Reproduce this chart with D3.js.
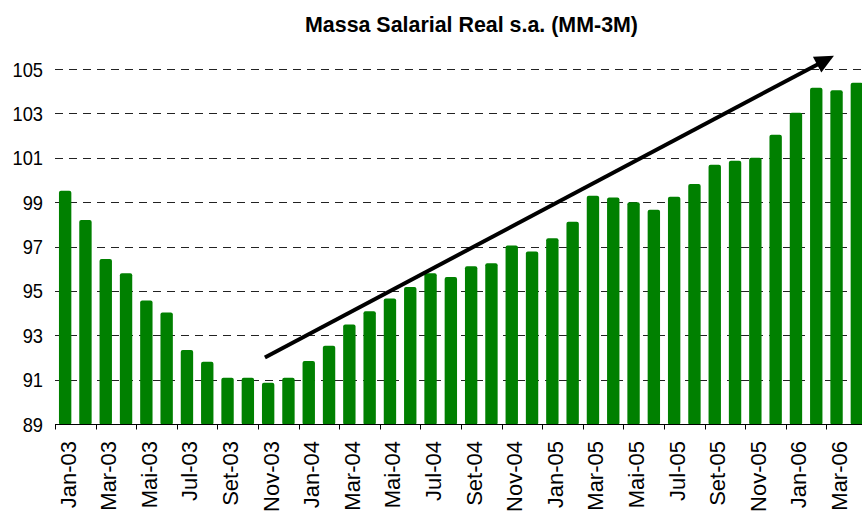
<!DOCTYPE html>
<html>
<head>
<meta charset="utf-8">
<script src="https://cdn.jsdelivr.net/npm/d3@7"></script>
<style>
  body { margin: 0; background: #fff; }
  svg { display: block; font-family: "Liberation Sans", Arial, sans-serif; }
</style>
</head>
<body>
<svg id="svg" width="862" height="511"></svg>
<script>
/*********************
 * Data
 *********************/
const months = [
  'Jan-03','Fev-03','Mar-03','Abr-03','Mai-03','Jun-03','Jul-03','Ago-03','Set-03','Out-03','Nov-03','Dez-03',
  'Jan-04','Fev-04','Mar-04','Abr-04','Mai-04','Jun-04','Jul-04','Ago-04','Set-04','Out-04','Nov-04','Dez-04',
  'Jan-05','Fev-05','Mar-05','Abr-05','Mai-05','Jun-05','Jul-05','Ago-05','Set-05','Out-05','Nov-05','Dez-05',
  'Jan-06','Fev-06','Mar-06','Abr-06'
];
const values = [
  99.51, 98.19, 96.44, 95.80, 94.57, 94.02, 92.33, 91.81, 91.09, 91.09, 90.86, 91.09,
  91.84, 92.53, 93.49, 94.08, 94.66, 95.17, 95.79, 95.62, 96.11, 96.24, 97.04, 96.78,
  97.37, 98.12, 99.29, 99.21, 99.00, 98.66, 99.24, 99.82, 100.69, 100.87, 101.00, 102.04,
  103.03, 104.16, 104.04, 104.38
];
const yTicks = [89, 91, 93, 95, 97, 99, 101, 103, 105];
const title = 'Massa Salarial Real s.a. (MM-3M)';
// trend arrow, in (month index, value) units
const arrowFrom = [9.84, 92.0];
const arrowTo = [37.87, 105.6];

/*********************
 * Scales
 *********************/
const svg = d3.select('#svg');
const step = 20.3;
const left = 55;

const x = d3.scaleBand()
  .domain(months)
  .range([left, left + step * months.length])
  .paddingInner(0.39)
  .paddingOuter(0.195);

const y = d3.scaleLinear().domain([89, 105]).range([424, 69]);

// fractional month index -> pixel (centre of band)
const xi = d3.scaleLinear().domain([0, 1]).range([x(months[0]) + x.bandwidth() / 2, x(months[1]) + x.bandwidth() / 2]);

/*********************
 * Grid
 *********************/
svg.append('g')
  .selectAll('line')
  .data(yTicks.filter(t => t > 89))
  .enter()
  .append('line')
  .attr('x1', left)
  .attr('x2', 862)
  .attr('y1', d => Math.round(y(d)) + 0.5)
  .attr('y2', d => Math.round(y(d)) + 0.5)
  .attr('stroke', '#222')
  .attr('stroke-width', 1)
  .attr('stroke-dasharray', '8,6');

svg.append('g')
  .selectAll('text')
  .data(yTicks)
  .enter()
  .append('text')
  .attr('transform', d => `translate(43,${y(d)}) scale(0.87,1)`)
  .attr('text-anchor', 'end')
  .attr('dy', '0.36em')
  .attr('font-size', 21)
  .attr('fill', '#000')
  .text(d => d);

/*********************
 * Bars
 *********************/
svg.append('g')
  .selectAll('rect')
  .data(values)
  .enter()
  .append('rect')
  .attr('x', (d, i) => x(months[i]))
  .attr('y', d => y(d))
  .attr('width', x.bandwidth())
  .attr('height', d => y(89) - y(d) + 1)
  .attr('rx', 2)
  .attr('fill', '#008000');

/*********************
 * X axis
 *********************/
const axisY = Math.round(y(89)) + 0.5;
svg.append('line')
  .attr('x1', left).attr('x2', 862)
  .attr('y1', axisY).attr('y2', axisY)
  .attr('stroke', '#000');

svg.append('g')
  .selectAll('line')
  .data(months.filter((m, i) => i % 2 === 0))
  .enter()
  .append('line')
  .attr('x1', d => Math.round(x(d) - x.step() * 0.195) + 0.5)
  .attr('x2', d => Math.round(x(d) - x.step() * 0.195) + 0.5)
  .attr('y1', axisY)
  .attr('y2', axisY + 5)
  .attr('stroke', '#000');

svg.append('g')
  .selectAll('text')
  .data(months.filter((m, i) => i % 2 === 0))
  .enter()
  .append('text')
  .attr('transform', d => `translate(${x(d) + x.bandwidth() / 2 + 10.5},441) rotate(-90)`)
  .attr('text-anchor', 'end')
  .attr('font-size', 22)
  .attr('fill', '#000')
  .text(d => d);

/*********************
 * Trend arrow
 *********************/
const p0 = [xi(arrowFrom[0]), y(arrowFrom[1])];
const p1 = [xi(arrowTo[0]), y(arrowTo[1])];
const ang = Math.atan2(p1[1] - p0[1], p1[0] - p0[0]);
const headLen = 19, headHalf = 9;
const base = [p1[0] - headLen * Math.cos(ang), p1[1] - headLen * Math.sin(ang)];
const nx = -Math.sin(ang), ny = Math.cos(ang);

svg.append('line')
  .attr('x1', p0[0]).attr('y1', p0[1])
  .attr('x2', base[0] + 2 * Math.cos(ang)).attr('y2', base[1] + 2 * Math.sin(ang))
  .attr('stroke', '#000')
  .attr('stroke-width', 4);

svg.append('polygon')
  .attr('points', [
    p1,
    [base[0] + nx * headHalf, base[1] + ny * headHalf],
    [base[0] - nx * headHalf, base[1] - ny * headHalf]
  ].map(p => p.join(',')).join(' '))
  .attr('fill', '#000');

/*********************
 * Title
 *********************/
svg.append('text')
  .attr('x', 471.5)
  .attr('y', 32)
  .attr('text-anchor', 'middle')
  .attr('font-size', 22)
  .attr('font-weight', 'bold')
  .attr('textLength', 333)
  .attr('lengthAdjust', 'spacingAndGlyphs')
  .attr('fill', '#000')
  .text(title);
</script>
</body>
</html>
